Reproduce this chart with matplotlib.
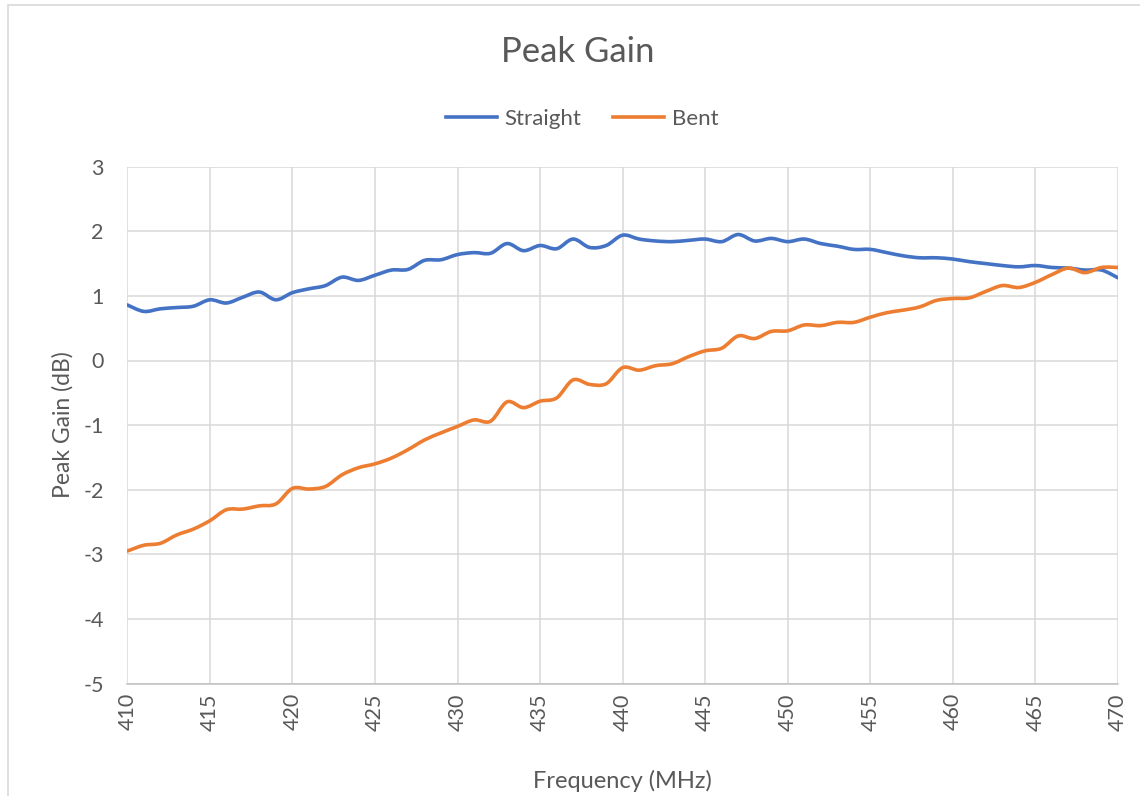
import numpy as np
import matplotlib
matplotlib.use('Agg')
import matplotlib.pyplot as plt
from matplotlib.path import Path
from matplotlib.patches import PathPatch, Rectangle
from matplotlib.lines import Line2D

plt.rcParams['font.family'] = ['Lato', 'DejaVu Sans']
plt.rcParams['axes.unicode_minus'] = False

freq = list(range(410, 471))
straight = [0.86, 0.76, 0.80, 0.82, 0.84, 0.94, 0.89, 0.98, 1.06, 0.94,
            1.05, 1.11, 1.16, 1.29, 1.24, 1.32, 1.40, 1.41, 1.55, 1.56,
            1.64, 1.67, 1.66, 1.81, 1.70, 1.78, 1.73, 1.88, 1.75, 1.78,
            1.94, 1.88, 1.85, 1.84, 1.86, 1.88, 1.84, 1.95, 1.85, 1.89,
            1.84, 1.88, 1.81, 1.77, 1.72, 1.72, 1.67, 1.62, 1.59, 1.59,
            1.57, 1.53, 1.50, 1.47, 1.45, 1.47, 1.44, 1.43, 1.40, 1.40,
            1.28]
bent = [-2.95, -2.86, -2.83, -2.70, -2.61, -2.48, -2.31, -2.30, -2.25, -2.22,
        -1.98, -1.99, -1.95, -1.77, -1.66, -1.60, -1.51, -1.38, -1.23, -1.12,
        -1.02, -0.92, -0.94, -0.64, -0.73, -0.63, -0.58, -0.30, -0.37, -0.36,
        -0.11, -0.15, -0.08, -0.05, 0.06, 0.15, 0.19, 0.38, 0.34, 0.45,
        0.46, 0.55, 0.54, 0.59, 0.59, 0.67, 0.74, 0.78, 0.83, 0.93,
        0.96, 0.97, 1.07, 1.16, 1.13, 1.21, 1.33, 1.43, 1.36, 1.44,
        1.44]
series_names = ['Straight', 'Bent']
colors = ['#4472C4', '#ED7D31']
text_color = '#595959'


def smooth_path(x, y):
    # Excel-style smoothed line: cubic Bezier segments through the points
    x = np.asarray(x, float)
    y = np.asarray(y, float)
    pts = np.column_stack([x, y])
    verts = [pts[0]]
    codes = [Path.MOVETO]
    n = len(pts)
    for i in range(n - 1):
        p0 = pts[i - 1] if i > 0 else pts[i]
        p1 = pts[i]
        p2 = pts[i + 1]
        p3 = pts[i + 2] if i + 2 < n else pts[i + 1]
        c1 = p1 + (p2 - p0) / 6.0
        c2 = p2 - (p3 - p1) / 6.0
        verts += [c1, c2, p2]
        codes += [Path.CURVE4] * 3
    return Path(verts, codes)


fig = plt.figure(figsize=(11.4, 7.96), dpi=100)
fig.patches.append(Rectangle((8 / 1140, -0.01), 1.2, 1 - 5 / 796 + 0.01,
                             transform=fig.transFigure, fill=False,
                             edgecolor='#d9d9d9', linewidth=1.2))

ax = fig.add_axes([127.3 / 1140, 1 - 683.5 / 796, (1118 - 127.3) / 1140, (683.5 - 166.7) / 796])

for vals, c in zip([straight, bent], colors):
    ax.add_patch(PathPatch(smooth_path(freq, vals), fill=False, edgecolor=c,
                           linewidth=2.6, capstyle='round', joinstyle='round', zorder=3))

ax.set_xlim(410, 470)
ax.set_ylim(-5, 3)
ax.set_xticks(range(410, 471, 5))
ax.set_yticks(range(-5, 4))
ax.set_xticklabels([str(v) for v in range(410, 471, 5)], rotation=90)
ax.grid(True, color='#d9d9d9', linewidth=1.1)
ax.set_axisbelow(True)
for s in ['top', 'right', 'left']:
    ax.spines[s].set_visible(False)
ax.spines['bottom'].set_color('#bfbfbf')
ax.spines['bottom'].set_linewidth(1.1)
ax.tick_params(length=0, colors=text_color, labelsize=15.5, pad=7)
ax.tick_params(axis='y', pad=17)

ax.set_xlabel('Frequency (MHz)', fontsize=17, color=text_color, labelpad=28)
ax.set_ylabel('Peak Gain (dB)', fontsize=16.5, color=text_color, labelpad=7)

fig.text(578 / 1140, 1 - 52 / 796, 'Peak Gain', ha='center', va='center',
         fontsize=25, color=text_color)

handles = [Line2D([], [], color=c, linewidth=2.6) for c in colors]
fig.legend(handles, series_names, loc='center', bbox_to_anchor=(582 / 1140, 1 - 119 / 796),
           ncol=2, frameon=False, fontsize=16, labelcolor=text_color,
           handlelength=2.3, handletextpad=0.35, columnspacing=1.4)

fig.savefig('out.png', dpi=100)
